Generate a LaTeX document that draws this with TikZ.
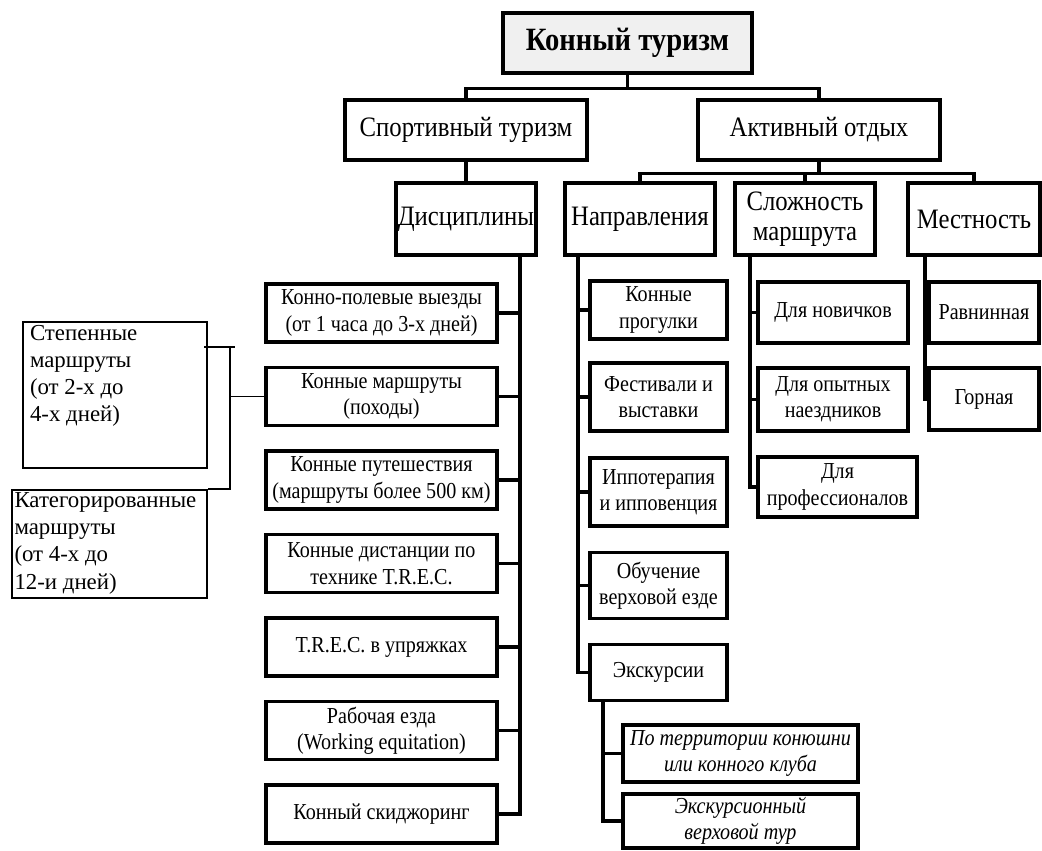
\documentclass[tikz,border=0pt]{standalone}
\usepackage{fontspec}
\usepackage{xcolor}
\usepackage{tikz}
\setmainfont{Liberation Serif}
\newfontfamily\narrowserif[FakeStretch=0.88]{Liberation Serif}
\definecolor{rootgray}{RGB}{240,240,240}

\begin{document}
\begin{tikzpicture}[x=0.02cm, y=-0.02cm,
  box/.style={draw, line width=1.9pt, align=center, inner sep=1pt,
    font=\narrowserif\fontsize{13}{15}\selectfont},
  headbox/.style={box, font=\narrowserif\fontsize{16}{17}\selectfont},
  tourbox/.style={box, font=\narrowserif\itshape\fontsize{13}{15}\selectfont},
  sidebox/.style={draw, line width=1.4pt, inner sep=1.5pt,
    font=\fontsize{13}{15.5}\selectfont},
  link/.style={line width=1.9pt},
  thinlink/.style={line width=1pt}]
  \useasboundingbox (0,0) rectangle (1042,850);

  % root and first level
  \node[headbox, fill=rootgray, minimum width=4.98cm, minimum height=1.2cm,
    font=\narrowserif\bfseries\fontsize{18.5}{20}\selectfont] (root) at (627.5,43) {Конный туризм};
  \node[headbox, minimum width=4.84cm, minimum height=1.2cm] (sport) at (466,130) {Спортивный туризм};
  \node[headbox, minimum width=4.84cm, minimum height=1.2cm] (active) at (819,130) {Активный отдых};
  \draw[link] (root.south) -- ++(0,14) -| (sport.north);
  \draw[link] (root.south) ++(0,14) -| (active.north);

  % second level
  \node[headbox, minimum width=2.76cm, minimum height=1.44cm] (disc) at (466,219) {Дисциплины};
  \node[headbox, minimum width=3cm, minimum height=1.44cm] (napr) at (640,219) {Направления};
  \node[headbox, minimum width=2.8cm, minimum height=1.44cm] (slozh) at (805,219) {Сложность\\маршрута};
  \node[headbox, minimum width=2.64cm, minimum height=1.44cm] (mest) at (974,219) {Местность};
  \draw[link] (sport.south) -- (disc.north);
  \draw[link] (active.south) -- ++(0,12) -| (napr.north);
  \draw[link] (active.south) ++(0,12) -| (slozh.north);
  \draw[link] (active.south) ++(0,12) -| (mest.north);

  % disciplines
  \foreach \txt [count=\i] in {{Конно-полевые выезды\\(от 1 часа до 3-х дней)},
      {Конные маршруты\\(походы)}, {Конные путешествия\\(маршруты более 500 км)},
      {Конные дистанции по\\технике T.R.E.C.}, {T.R.E.C. в упряжках},
      {Рабочая езда\\(Working equitation)}, {Конный скиджоринг}}
    \node[box, minimum width=4.62cm, minimum height=1.16cm] (disc\i) at (381.5,{229.5+83.5*\i}) {\txt};
  \coordinate (disctrunk) at (520,255);
  \draw[link] (disctrunk) |- (disc7.east);
  \foreach \i in {1,...,6}
    \draw[link] (disc\i.east) -- (disc\i.east -| disctrunk);

  % directions
  \foreach \i/\yc/\hh/\txt in {1/310/1.16/{Конные\\прогулки}, 2/397/1.36/{Фестивали и\\выставки},
      3/492/1.36/{Иппотерапия\\и ипповенция}, 4/585.5/1.32/{Обучение\\верховой езде},
      5/672.5/1.12/{Экскурсии}}
    \node[box, minimum width=2.74cm, minimum height=\hh cm] (napr\i) at (658.5,\yc) {\txt};
  \coordinate (naprtrunk) at (578,255);
  \draw[link] (naprtrunk) |- (napr5.west);
  \foreach \i in {1,...,4}
    \draw[link] (napr\i.west) -- (napr\i.west -| naprtrunk);

  % excursions
  \node[tourbox, minimum width=4.7cm, minimum height=1.14cm] (tour1) at (740.5,753.5) {По территории конюшни\\или конного клуба};
  \node[tourbox, minimum width=4.7cm, minimum height=1.08cm] (tour2) at (740.5,821) {Экскурсионный\\верховой тур};
  \coordinate (tourtrunk) at (603,700.5);
  \draw[link] (tourtrunk) |- (tour2.west);
  \draw[link] (tour1.west) -- (tour1.west -| tourtrunk);

  % route difficulty
  \node[box, minimum width=3cm, minimum height=1.22cm] (slozh1) at (833,312.5) {Для новичков};
  \node[box, minimum width=3cm, minimum height=1.26cm] (slozh2) at (833,399.5) {Для опытных\\наездников};
  \node[box, minimum width=3.18cm, minimum height=1.2cm] (slozh3) at (837.5,487) {Для\\профессионалов};
  \coordinate (slozhtrunk) at (750,256);
  \draw[link] (slozhtrunk) |- (slozh3.west);
  \foreach \i in {1,2}
    \draw[link] (slozh\i.west) -- (slozh\i.west -| slozhtrunk);

  % terrain
  \node[box, minimum width=2.2cm, minimum height=1.22cm] (mest1) at (984,312.5) {Равнинная};
  \node[box, minimum width=2.2cm, minimum height=1.24cm] (mest2) at (984,399) {Горная};
  \coordinate (mesttrunk) at (925,255);
  \draw[link] (mesttrunk) |- (mest2.west);
  \draw[link] (mest1.west) -- (mest1.west -| mesttrunk);

  % routes by length, hung on the hikes box
  \node[sidebox, minimum width=3.68cm, minimum height=2.92cm] (stepen) at (115,395)
    {\parbox[c][2.8cm][t]{3.4cm}{Степенные\\маршруты\\(от 2-х до\\4-х дней)}};
  \node[sidebox, minimum width=3.9cm, minimum height=2.16cm] (kat) at (109.5,544)
    {\parbox[c][2.06cm][t]{3.8cm}{Категорированные\\маршруты\\(от 4-х до\\12-и дней)}};
  \coordinate (sidetop) at (235,347);
  \coordinate (sidejoin) at (230,347);
  \draw[thinlink] ([shift={(-4,-48)}]stepen.east) -- (sidetop);
  \draw[thinlink] (sidejoin) |- (kat.north east);
  \draw[thinlink] (disc2.west) -- (disc2.west -| sidejoin);
\end{tikzpicture}
\end{document}
